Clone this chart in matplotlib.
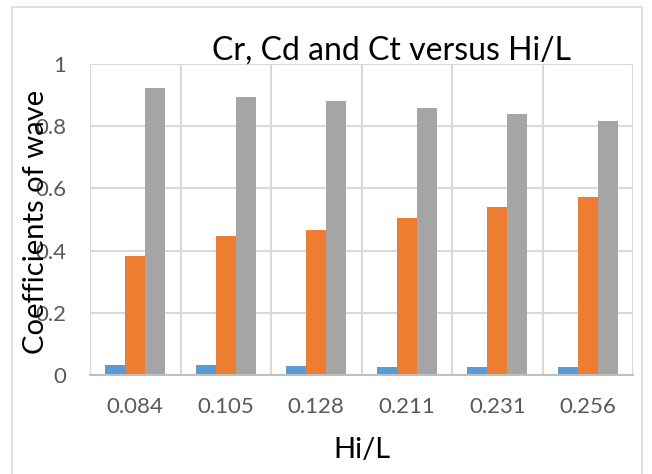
import matplotlib
matplotlib.use("Agg")
import matplotlib.pyplot as plt
import numpy as np
from matplotlib.patches import Rectangle

categories = ["0.084", "0.105", "0.128", "0.211", "0.231", "0.256"]
cr = [0.032, 0.031, 0.030, 0.027, 0.026, 0.026]
cd = [0.384, 0.448, 0.466, 0.505, 0.539, 0.571]
ct = [0.924, 0.893, 0.881, 0.860, 0.839, 0.816]
series = [("Cr", cr, "#5B9BD5"), ("Cd", cd, "#ED7D31"), ("Ct", ct, "#A5A5A5")]
yticks = [0, 0.2, 0.4, 0.6, 0.8, 1.0]
ytick_labels = ["0", "0.2", "0.4", "0.6", "0.8", "1"]

plt.rcParams['font.family'] = ['Lato', 'DejaVu Sans']

W, H = 652, 474
fig = plt.figure(figsize=(W / 100, H / 100), dpi=100)
fig.patch.set_facecolor("white")

# outer chart border
fig.add_artist(Rectangle((12 / W, -0.05), (642 - 12) / W, (H - 7) / H + 0.05,
                         transform=fig.transFigure, fill=False,
                         edgecolor="#D9D9D9", linewidth=1.2))

ax = fig.add_axes([90 / W, (H - 375) / H, (633 - 90) / W, (375 - 64) / H])

x = np.arange(len(categories))
bw = 0.222
for k, (name, vals, col) in enumerate(series):
    ax.bar(x + (k - 1) * bw, vals, width=bw, color=col, label=name, zorder=3)

ax.set_xlim(-0.5, len(categories) - 0.5)
ax.set_ylim(0, 1)
ax.set_yticks(yticks)
ax.set_yticklabels(ytick_labels)
ax.set_xticks(x)
ax.set_xticklabels(categories)
ax.set_xticks(np.arange(-0.5, len(categories), 1.0), minor=True)

ax.grid(axis="y", which="major", color="#D9D9D9", linewidth=1.5, zorder=0)
ax.grid(axis="x", which="minor", color="#D9D9D9", linewidth=1.5, zorder=0)
ax.grid(axis="x", which="major", visible=False)

for s in ["top", "right", "left"]:
    ax.spines[s].set_visible(False)
ax.spines["bottom"].set_color("#BFBFBF")
ax.spines["bottom"].set_linewidth(1.5)
ax.spines["bottom"].set_zorder(4)

ax.tick_params(axis="both", which="both", length=0, colors="#595959", labelsize=16)
ax.tick_params(axis="y", pad=17)
ax.tick_params(axis="x", pad=16)

fig.text(392 / W, (H - 60) / H, "Cr, Cd and Ct versus Hi/L", ha="center",
         va="baseline", fontsize=23, color="black")
fig.text(362 / W, (H - 450) / H, "Hi/L", ha="center", va="center",
         fontsize=21, color="black")
fig.text(36 / W, (H - 222) / H, "Coefficients of wave", ha="center", va="center",
         rotation=90, fontsize=21, color="black")

fig.savefig("out.png", dpi=100, facecolor="white")
